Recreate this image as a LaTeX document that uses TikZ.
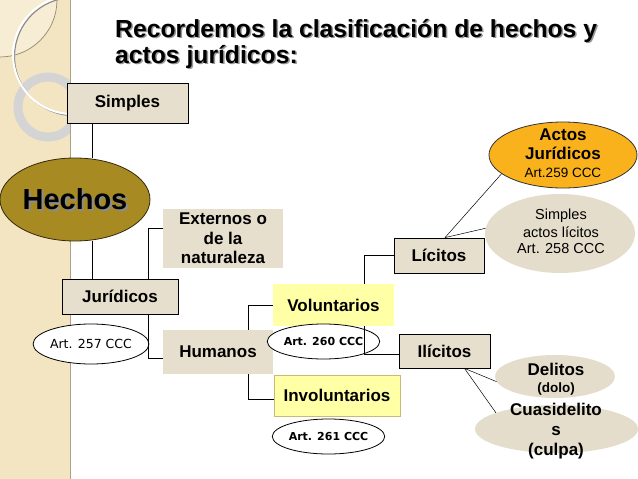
\documentclass[tikz,border=0pt]{standalone}
\usepackage{fontspec}
\setmainfont{Liberation Sans}
\newfontfamily\dejavu{DejaVu Sans}
\usepackage{tikz}
\usetikzlibrary{shapes.geometric}
\definecolor{banda}{RGB}{244,229,194}
\definecolor{beige}{RGB}{231,223,205}
\definecolor{beigeelipse}{RGB}{229,221,203}
\definecolor{amarillo}{RGB}{255,255,166}
\definecolor{naranja}{RGB}{249,178,28}
\definecolor{oro}{RGB}{168,138,34}
\newcommand{\cajafont}{\fontsize{17}{19.5}\selectfont\bfseries}
\newcommand{\artfont}{\dejavu\fontsize{12.5}{14}\selectfont}
\newcommand{\artbfont}{\dejavu\fontsize{11}{13}\selectfont\bfseries}

\begin{document}
\begin{tikzpicture}[x=1pt,y=-1pt]
\tikzstyle{every node} = [inner sep=0pt]
\tikzstyle{caja} = [rectangle, fill=beige, draw=black, line width=0.8pt, font=\cajafont, align=center]
\tikzstyle{cajasin} = [caja, draw=none]
\tikzstyle{amarilla} = [caja, fill=amarillo, draw=none]
\tikzstyle{elipse} = [ellipse, draw=black, line width=0.8pt, fill=white]
\tikzstyle{elipsebeige} = [ellipse, fill=beigeelipse]
\tikzstyle{linea} = [draw=black, line width=0.7pt]

\useasboundingbox (0,0) rectangle (638,479);
\fill[white] (0,0) rectangle (638,479);

% banda de la izquierda
\fill[banda] (0,0) rectangle (70,479);
\begin{scope}
\clip (0,0) rectangle (70,479);
\fill[white,opacity=0.3] (0,0) circle (57pt);
\draw[banda!60!black,line width=0.7pt] (0,0) circle (57pt);
\draw[black!17,line width=9pt] (48,107) circle (30pt);
\draw[black!45,line width=1.2pt] (73.5,56.5) circle (59pt);
\draw[white,line width=2pt] (72,55) circle (59pt);
\end{scope}
\draw[banda!70!black,line width=0.8pt] (70,0) -- (70,479);

% titulo
\node[anchor=north west,align=left,text=black!40,font=\fontsize{24.7}{26}\selectfont\bfseries]
  (titulosombra) at (116.5,20.5) {Recordemos la clasificación de hechos y\\actos jurídicos:};
\node[anchor=north west,align=left,font=\fontsize{24.7}{26}\selectfont\bfseries]
  (titulo) at (115,19) {Recordemos la clasificación de hechos y\\actos jurídicos:};

% cajas
\node[caja,minimum width=121pt,minimum height=40pt] (simples) at (127.5,103) {Simples};
\node[ellipse,draw=black!70!oro,line width=0.8pt,fill=oro,minimum width=150pt,minimum height=83pt] (hechos) at (75,199.5) {};
\node[text=black!45,font=\fontsize{29}{30}\selectfont\bfseries] (hechossombra) at (77,201.5) {Hechos};
\node[font=\fontsize{29}{30}\selectfont\bfseries] (hechostexto) at (hechos) {Hechos};
\node[caja,minimum width=116pt,minimum height=35pt] (juridicos) at (120,296.5) {Jurídicos};
\node[elipse,minimum width=108pt,minimum height=40pt,font=\artfont] (art257) at (91,344) {Art. 257 CCC};
\node[cajasin,minimum width=120pt,minimum height=59pt] (externos) at (223,238.5) {Externos o\\de la\\naturaleza};
\node[cajasin,minimum width=110pt,minimum height=44pt] (humanos) at (218,352) {Humanos};
\node[amarilla,minimum width=121pt,minimum height=42pt] (voluntarios) at (333.5,305) {Voluntarios};
\node[elipse,minimum width=101pt,minimum height=35pt,font=\artbfont] (art260) at (323.5,341.5) {Art. 260 CCC};
\node[amarilla,draw=oro!60,line width=0.6pt,minimum width=126pt,minimum height=41pt] (involuntarios) at (337,395.5) {Involuntarios};
\node[elipse,minimum width=101pt,minimum height=35pt,font=\artbfont] (art261) at (328.5,436.5) {Art. 261 CCC};
\node[caja,minimum width=90pt,minimum height=35pt] (licitos) at (439,255.5) {Lícitos};
\node[caja,minimum width=91pt,minimum height=34pt] (ilicitos) at (444.5,351) {Ilícitos};

% elipses de la derecha
\node[ellipse,draw=black!80,line width=0.8pt,fill=naranja,minimum width=148pt,minimum height=66pt] (actos) at (563,155) {};
\node[align=center,font=\cajafont] (actostexto) at (563,153) {Actos\\Jurídicos\\[-2pt]{\fontsize{13.5}{14}\selectfont\mdseries Art.259 CCC}};
\node[elipsebeige,minimum width=150pt,minimum height=79pt] (sactos) at (560,233.5) {};
\node[align=center,font=\fontsize{14.5}{18.5}\selectfont] (sactostexto) at (561,231) {Simples\\actos lícitos\\[-3pt]Art. 258 CCC};
\node[elipsebeige,minimum width=120pt,minimum height=43pt] (delitos) at (555,376.5) {};
\node[align=center,font=\cajafont] (delitostexto) at (556,379) {Delitos\\[-2pt]{\fontsize{13.5}{14}\selectfont (dolo)}};
\node[elipsebeige,minimum width=163pt,minimum height=48pt] (cuasi) at (556.5,429) {};
\node[align=center,font=\fontsize{17}{20}\selectfont\bfseries] (cuasitexto) at (556,431) {Cuasidelito\\s\\(culpa)};

% conectores
\coordinate (tronco) at (92,0);
\coordinate (rama) at (148,0);
\coordinate (ramah) at (248,0);
\coordinate (ramav) at (364,0);
\draw[linea] (simples.south -| tronco) -- (hechos.north -| tronco);
\draw[linea] (hechos.south -| tronco) -- (juridicos.north -| tronco);
\draw[linea] (juridicos.north -| rama) |- ([yshift=-20pt]externos.north west);
\draw[linea] (juridicos.south -| rama) |- ([yshift=-6pt]humanos.west);
\draw[linea] (humanos.north -| ramah) |- (voluntarios.west);
\draw[linea] (humanos.south -| ramah) |- ([yshift=-4pt]involuntarios.west);
\draw[linea] (voluntarios.north -| ramav) |- (licitos.west);
\draw[linea] (voluntarios.south -| ramav) |- ([yshift=-3pt]ilicitos.west);
\draw[linea,line width=0.5pt] ([xshift=6pt]licitos.north) -- (actos.197);
\draw[linea,line width=0.5pt] ([xshift=6pt]licitos.north) -- (sactos.176);
\draw[linea,line width=0.5pt] ([xshift=20pt]ilicitos.south) -- (delitos.185);
\draw[linea,line width=0.5pt] ([xshift=20pt]ilicitos.south) -- (cuasi.165);

\end{tikzpicture}
\end{document}
